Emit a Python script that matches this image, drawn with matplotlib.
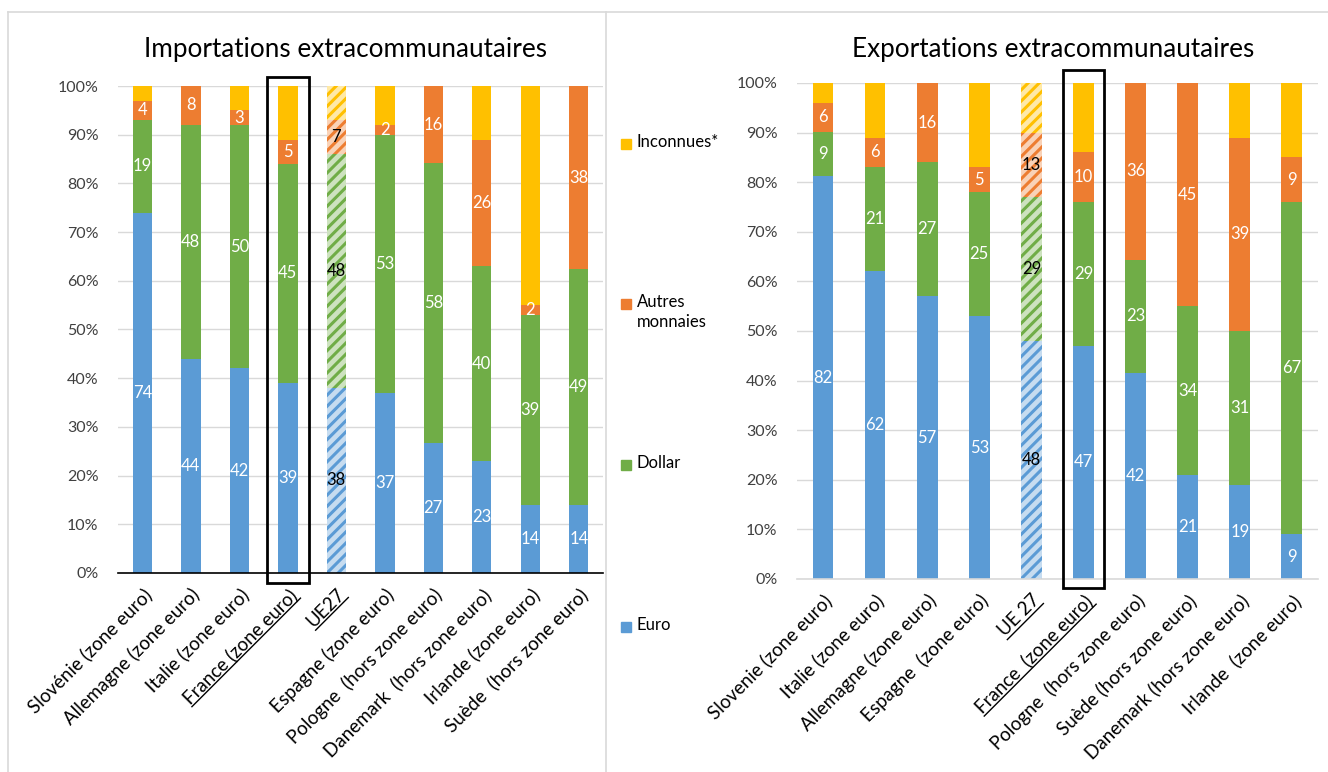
import numpy as np
import matplotlib
matplotlib.use("Agg")
import matplotlib.pyplot as plt
from matplotlib.patches import Rectangle
from matplotlib.lines import Line2D

plt.rcParams['font.family'] = ['Lato', 'DejaVu Sans']
plt.rcParams['hatch.linewidth'] = 2.2

# ---- data : importations ----
imp_pays = ["Slovénie (zone euro)", "Allemagne (zone euro)", "Italie (zone euro)",
            "France (zone euro)", "UE27", "Espagne (zone euro)",
            "Pologne  (hors zone euro)", "Danemark  (hors zone euro)",
            "Irlande (zone euro)", "Suède  (hors zone euro)"]
imp_euro = [74, 44, 42, 39, 38, 37, 27, 23, 14, 14]
imp_dollar = [19, 48, 50, 45, 48, 53, 58, 40, 39, 49]
imp_autres = [4, 8, 3, 5, 7, 2, 16, 26, 2, 38]
imp_inconnues = [3, 0, 5, 11, 7, 8, 0, 11, 45, 0]

# ---- data : exportations ----
exp_pays = ["Slovenie (zone euro)", "Italie (zone euro)", "Allemagne (zone euro)",
            "Espagne  (zone euro)", "UE 27", "France  (zone euro)",
            "Pologne  (hors zone euro)", "Suède (hors zone euro)",
            "Danemark (hors zone euro)", "Irlande  (zone euro)"]
exp_euro = [82, 62, 57, 53, 48, 47, 42, 21, 19, 9]
exp_dollar = [9, 21, 27, 25, 29, 29, 23, 34, 31, 67]
exp_autres = [6, 6, 16, 5, 13, 10, 36, 45, 39, 9]
exp_inconnues = [4, 11, 0, 17, 10, 14, 0, 0, 11, 15]

series = ["Euro", "Dollar", "Autres\nmonnaies", "Inconnues*"]
colors = ["#5B9BD5", "#70AD47", "#ED7D31", "#FFC000"]


def light(c, a=0.35):
    c = np.array(matplotlib.colors.to_rgb(c))
    return tuple(1 - a * (1 - c))


def stacked(ax, pays, data, ue_idx, base_color):
    data = np.array(data, dtype=float)
    tot = data.sum(axis=0)
    x = np.arange(len(pays))
    bottom = np.zeros(len(pays))
    for s in range(4):
        vals = data[s] / tot * 100
        for i in range(len(pays)):
            if vals[i] <= 0:
                continue
            if i == ue_idx:
                ax.bar(x[i], vals[i], 0.4, bottom=bottom[i], facecolor=light(colors[s]),
                       edgecolor=colors[s], hatch='///', linewidth=0, zorder=2)
            else:
                ax.bar(x[i], vals[i], 0.4, bottom=bottom[i], color=colors[s],
                       linewidth=0, zorder=2)
            if s < 3:
                ax.text(x[i], bottom[i] + vals[i] / 2, "%d" % data[s][i], ha='center',
                        va='center', fontsize=12,
                        color='black' if i == ue_idx else 'white', zorder=3)
        bottom += vals
    ax.set_xlim(-0.5, len(pays) - 0.5)
    ax.set_ylim(0, 100)
    ax.set_yticks(np.arange(0, 101, 10))
    ax.set_yticklabels(["%d%%" % v for v in range(0, 101, 10)], fontsize=11.5, color='#404040')
    ax.set_xticks(x)
    ax.set_xticklabels(pays, rotation=45, ha='right', rotation_mode='anchor', fontsize=13.5)
    ax.tick_params(axis='x', length=0, pad=9)
    ax.tick_params(axis='y', length=0, pad=14)
    ax.grid(axis='y', color='#D9D9D9', linewidth=1, zorder=0)
    ax.set_axisbelow(True)
    for sp in ['left', 'right', 'top']:
        ax.spines[sp].set_visible(False)
    ax.spines['bottom'].set_color(base_color)
    ax.spines['bottom'].set_linewidth(1.2)
    ax.spines['bottom'].set_zorder(4)


fig = plt.figure(figsize=(13.28, 7.72), dpi=100)
ax1 = fig.add_axes([0.0889, 0.2578, 0.3652, 0.6308])
ax2 = fig.add_axes([0.6001, 0.2500, 0.3923, 0.6425])

stacked(ax1, imp_pays, [imp_euro, imp_dollar, imp_autres, imp_inconnues], 4, 'black')
stacked(ax2, exp_pays, [exp_euro, exp_dollar, exp_autres, exp_inconnues], 4, '#D9D9D9')

fig.text(345 / 1328, 1 - 49 / 772, "Importations extracommunautaires", ha='center', va='center', fontsize=18.8)
fig.text(1053 / 1328, 1 - 49 / 772, "Exportations extracommunautaires", ha='center', va='center', fontsize=18.8)

# France highlight boxes
ax1.add_patch(Rectangle((3 - 0.43, -2), 0.86, 103.8, fill=False, edgecolor='black',
                        linewidth=2, clip_on=False, zorder=5))
ax2.add_patch(Rectangle((5 - 0.4, -1.8), 0.8, 104.4, fill=False, edgecolor='black',
                        linewidth=2, clip_on=False, zorder=5))

# legend in the middle
leg_y = [627, 465, 304, 144]
for s in range(4):
    fig.patches.append(Rectangle((621 / 1328, 1 - (leg_y[s] + 5) / 772), 10 / 1328, 10 / 772,
                                 transform=fig.transFigure, color=colors[s]))
    fig.text(637 / 1328, 1 - (leg_y[s] - 10) / 772, series[s], ha='left', va='top',
             fontsize=12, linespacing=1.3)

# panel borders
fig.add_artist(Line2D([8 / 1328, 8 / 1328], [0, 1 - 12 / 772], color='#D9D9D9', lw=1.2))
fig.add_artist(Line2D([606 / 1328, 606 / 1328], [0, 1 - 12 / 772], color='#D9D9D9', lw=1.2))
fig.add_artist(Line2D([8 / 1328, 1], [1 - 12 / 772, 1 - 12 / 772], color='#D9D9D9', lw=1.2))

# underline France and UE labels
fig.canvas.draw()
r = fig.canvas.get_renderer()
inv = fig.transFigure.inverted()
for ax, idxs in [(ax1, [3, 4]), (ax2, [4, 5])]:
    for i in idxs:
        lbl = ax.get_xticklabels()[i]
        bb = lbl.get_window_extent(r)
        lbl.set_rotation(0)
        bb0 = lbl.get_window_extent(r)
        lbl.set_rotation(45)
        w, h = bb0.width, bb0.height
        d = h / np.sqrt(2)
        A = np.array([bb.x1 - d, bb.y1])
        u = np.array([1, 1]) / np.sqrt(2)
        v = np.array([1, -1]) / np.sqrt(2)
        p1 = A + 1.0 * h * v - w * u
        p2 = A + 1.0 * h * v
        q = inv.transform([p1, p2])
        fig.add_artist(Line2D(q[:, 0], q[:, 1], color='black', lw=1))

fig.savefig("out.png", dpi=100)
